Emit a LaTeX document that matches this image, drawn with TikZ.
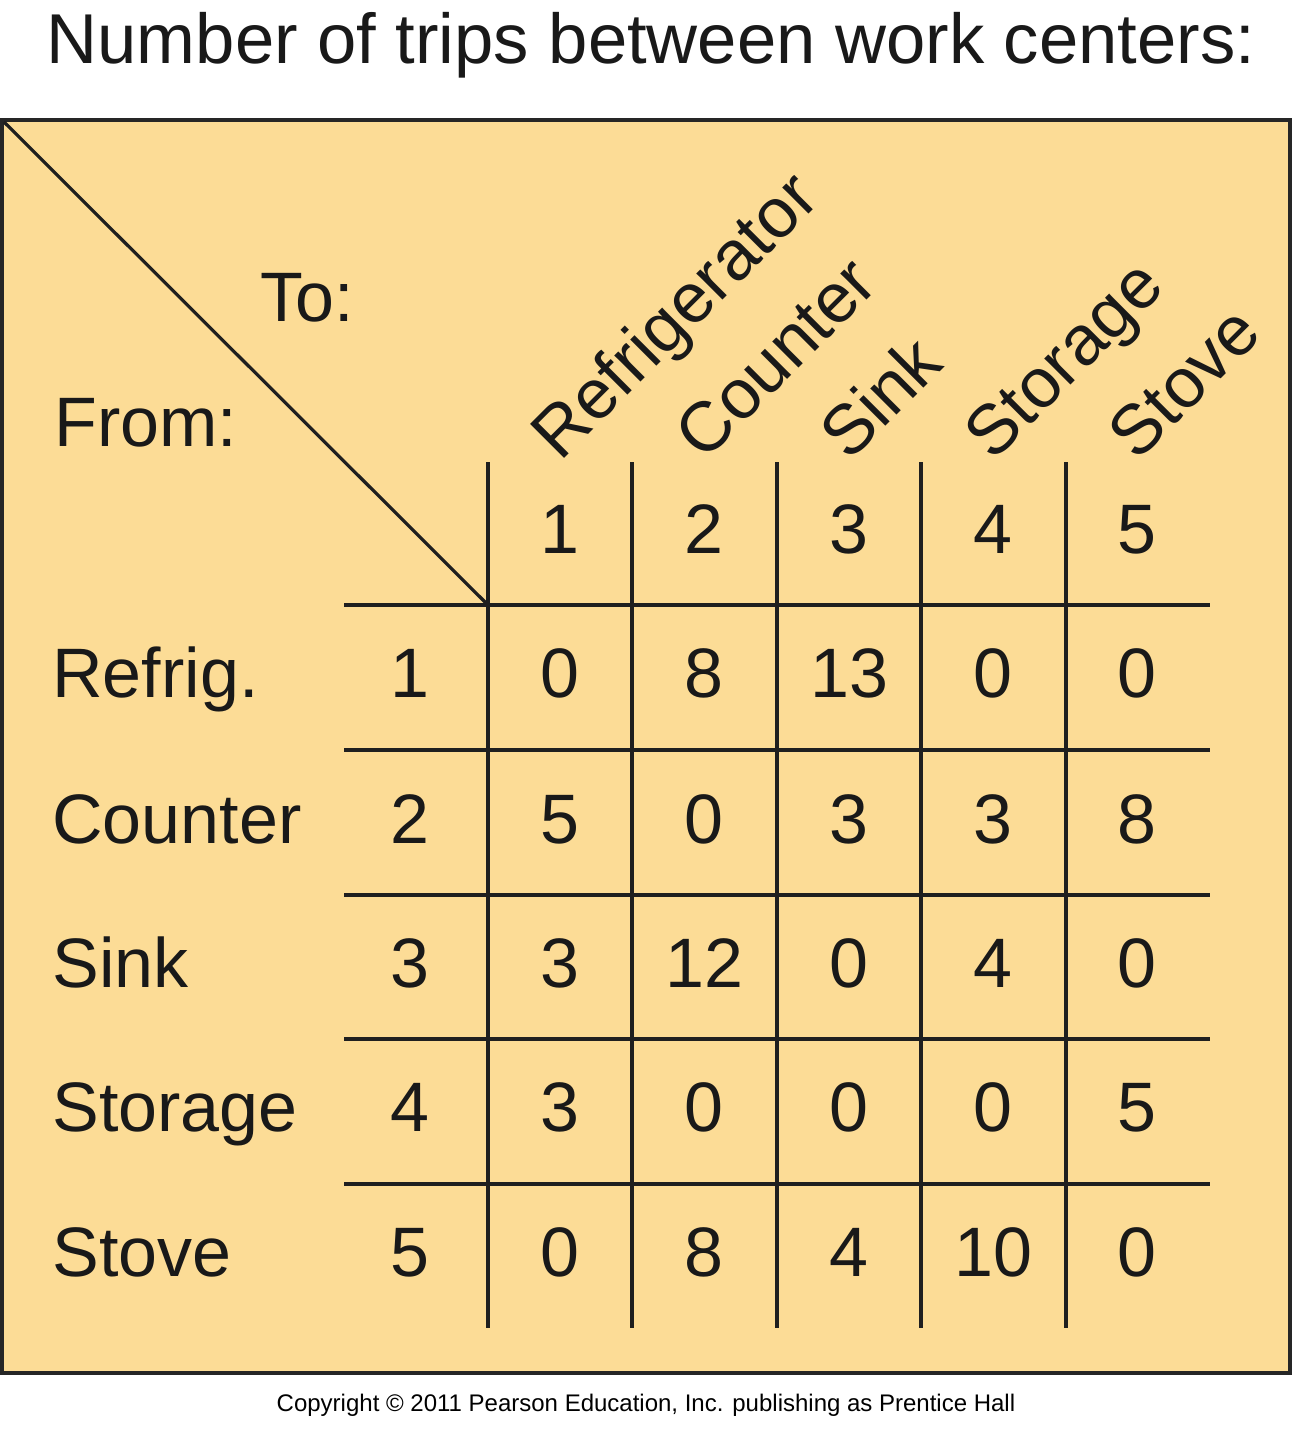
\documentclass[tikz,border=0pt]{standalone}
\usepackage{fontspec}
\setmainfont{Liberation Sans}
\usepackage{xcolor}
\usepackage{tikz}
\usetikzlibrary{positioning}

\definecolor{chartfill}{RGB}{252,220,150}
\tikzset{
  big/.style={font=\fontsize{35}{42}\selectfont, text=black!90, inner sep=0pt, anchor=base},
  rowname/.style={big, anchor=base west},
  colname/.style={big, anchor=base west, rotate=45},
  rule/.style={line width=1.6pt, draw=black!88},
}

\begin{document}
\begin{tikzpicture}[x=0.5pt, y=-0.5pt]
    \useasboundingbox (0,0) rectangle (1292,1438);
    \node(Title) at (651,64) [big, font=\fontsize{35.3}{42}\selectfont] {Number of trips between work centers:};
    % the board
    \draw[fill=chartfill, line width=1.8pt, draw=black!85] (2,120) rectangle (1290,1373);
    \draw[rule] (4,122) -- (488,605);
    \node(To) at (260,322) [rowname] {To:};
    \node(From) at (54,446) [rowname] {From:};
    % grid
    \draw[rule] (488,462) -- (488,1328);
    \draw[rule] (632,462) -- (632,1328);
    \draw[rule] (777,462) -- (777,1328);
    \draw[rule] (921,462) -- (921,1328);
    \draw[rule] (1066,462) -- (1066,1328);
    \draw[rule] (344,605) -- (1210,605);
    \draw[rule] (344,750) -- (1210,750);
    \draw[rule] (344,895) -- (1210,895);
    \draw[rule] (344,1039) -- (1210,1039);
    \draw[rule] (344,1184) -- (1210,1184);
    % column heads
    \node(Refrigerator) at (560,463) [colname] {Refrigerator};
    \node(Counter) at (704,463) [colname] {Counter};
    \node(Sink) at (849,463) [colname] {Sink};
    \node(Storage) at (993,463) [colname] {Storage};
    \node(Stove) at (1137,463) [colname] {Stove};
    \node(H1) at (560,553) [big] {1};
    \node(H2) at (704,553) [big] {2};
    \node(H3) at (849,553) [big] {3};
    \node(H4) at (993,553) [big] {4};
    \node(H5) at (1137,553) [big] {5};
    % row 1
    \node(Refrig) at (52,697) [rowname] {Refrig.};
    \node(R1) at (410,697) [big] {1};
    \node(C11) at (560,697) [big] {0};
    \node(C12) at (704,697) [big] {8};
    \node(C13) at (849,697) [big] {13};
    \node(C14) at (993,697) [big] {0};
    \node(C15) at (1137,697) [big] {0};
    % row 2
    \node(CounterRow) at (52,843) [rowname] {Counter};
    \node(R2) at (410,843) [big] {2};
    \node(C21) at (560,843) [big] {5};
    \node(C22) at (704,843) [big] {0};
    \node(C23) at (849,843) [big] {3};
    \node(C24) at (993,843) [big] {3};
    \node(C25) at (1137,843) [big] {8};
    % row 3
    \node(SinkRow) at (52,987) [rowname] {Sink};
    \node(R3) at (410,987) [big] {3};
    \node(C31) at (560,987) [big] {3};
    \node(C32) at (704,987) [big] {12};
    \node(C33) at (849,987) [big] {0};
    \node(C34) at (993,987) [big] {4};
    \node(C35) at (1137,987) [big] {0};
    % row 4
    \node(StorageRow) at (52,1131) [rowname] {Storage};
    \node(R4) at (410,1131) [big] {4};
    \node(C41) at (560,1131) [big] {3};
    \node(C42) at (704,1131) [big] {0};
    \node(C43) at (849,1131) [big] {0};
    \node(C44) at (993,1131) [big] {0};
    \node(C45) at (1137,1131) [big] {5};
    % row 5
    \node(StoveRow) at (52,1276) [rowname] {Stove};
    \node(R5) at (410,1276) [big] {5};
    \node(C51) at (560,1276) [big] {0};
    \node(C52) at (704,1276) [big] {8};
    \node(C53) at (849,1276) [big] {4};
    \node(C54) at (993,1276) [big] {10};
    \node(C55) at (1137,1276) [big] {0};
    \node(Copy) at (646,1411) [font=\fontsize{12}{14}\selectfont, anchor=base] {Copyright \textcopyright{} 2011 Pearson Education, Inc. publishing as Prentice Hall};
\end{tikzpicture}
\end{document}
